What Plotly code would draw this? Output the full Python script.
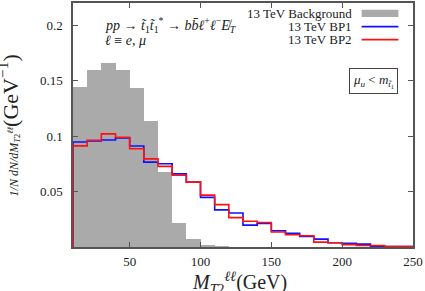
import plotly.graph_objects as go

bin_lo = [10, 20, 30, 40, 50, 60, 70, 80, 90, 100, 110, 120, 130, 140, 150,
          160, 170, 180, 190, 200, 210, 220, 230, 240]
bin_width = 10

background = [0.144, 0.160, 0.166, 0.1595, 0.143, 0.114, 0.0676, 0.022, 0.0073,
              0.0018, 0.0005, 0, 0, 0, 0, 0, 0, 0, 0, 0, 0, 0, 0, 0]
bp1 = [0.0947, 0.0956, 0.0965, 0.0983, 0.091, 0.0765, 0.075, 0.0659, 0.0585,
       0.0447, 0.0335, 0.0306, 0.0197, 0.0212, 0.0147, 0.0124, 0.0094, 0.0071,
       0.0038, 0.0033, 0.0026, 0.0006, 0.0005, 0.0004]
bp2 = [0.0912, 0.0962, 0.102, 0.0989, 0.0886, 0.0795, 0.0727, 0.0647, 0.0585,
       0.0468, 0.0382, 0.0265, 0.0232, 0.0221, 0.0135, 0.0111, 0.0102, 0.0044,
       0.0038, 0.0021, 0.0014, 0.0014, 0.0005, 0.0004]

x_ticks = [50, 100, 150, 200, 250]
y_ticks = [0.05, 0.1, 0.15, 0.2]

SERIF = "Liberation Serif"

centers = [lo + bin_width / 2 for lo in bin_lo]
edges = [bin_lo[0]] + bin_lo + [bin_lo[-1] + bin_width]


def step_y(vals):
    return [0] + vals + [vals[-1]]


fig = go.Figure()
fig.add_trace(go.Bar(x=centers, y=background, width=bin_width,
                     marker=dict(color="#aaaaaa", line=dict(width=0)),
                     showlegend=False))
fig.add_trace(go.Scatter(x=edges, y=step_y(bp1), mode="lines",
                         line=dict(color="#1010ff", width=1.6, shape="hv"),
                         showlegend=False))
fig.add_trace(go.Scatter(x=edges, y=step_y(bp2), mode="lines",
                         line=dict(color="#ff1010", width=1.6, shape="hv"),
                         showlegend=False))

axis_common = dict(showgrid=False, zeroline=False, showline=True,
                   linecolor="#555555", linewidth=1.5, mirror="ticks",
                   ticks="inside", ticklen=5, tickcolor="#555555",
                   tickfont=dict(family=SERIF, size=13, color="#222"))

fig.update_xaxes(range=[10, 250], tickvals=x_ticks, ticklabelstandoff=2,
                 **axis_common)
fig.update_yaxes(range=[0, 0.22], tickvals=y_ticks,
                 ticktext=[str(v) for v in y_ticks], ticklabelstandoff=6,
                 **axis_common)

annotations = []
leg_items = [("13 TeV Background", 0.959), ("13 TeV BP1", 0.903), ("13 TeV BP2", 0.85)]
for txt, yy in leg_items:
    annotations.append(dict(xref="paper", yref="paper", x=0.826, y=yy,
                            text=txt, showarrow=False, xanchor="right",
                            yanchor="middle",
                            font=dict(family=SERIF, size=13, color="#222")))
shapes = [
    dict(type="rect", xref="paper", yref="paper", x0=0.849, x1=0.957,
         y0=0.943, y1=0.972, fillcolor="#aaaaaa", line=dict(width=0)),
    dict(type="line", xref="paper", yref="paper", x0=0.849, x1=0.957,
         y0=0.903, y1=0.903, line=dict(color="#1010ff", width=1.6)),
    dict(type="line", xref="paper", yref="paper", x0=0.849, x1=0.957,
         y0=0.85, y1=0.85, line=dict(color="#ff1010", width=1.6)),
]

annotations.append(dict(xref="paper", yref="paper", x=0.088, y=0.91,
                        xanchor="left", yanchor="middle", showarrow=False,
                        text="<i>pp</i> → <i>t̃</i><sub>1</sub><i>t̃</i><sub>1</sub><sup>*</sup> → <i>bb̄ℓ</i><sup>+</sup><i>ℓ</i><sup>−</sup><i>E̸</i><sub><i>T</i></sub>",
                        font=dict(family=SERIF, size=14, color="#222")))
annotations.append(dict(xref="paper", yref="paper", x=0.088, y=0.845,
                        xanchor="left", yanchor="middle", showarrow=False,
                        text="<i>ℓ</i> ≡ <i>e</i>, <i>μ</i>",
                        font=dict(family=SERIF, size=14, color="#222")))
annotations.append(dict(xref="paper", yref="paper", x=0.884, y=0.68,
                        xanchor="center", yanchor="middle", showarrow=False,
                        text="<i>μ<sub>u</sub></i> &lt; <i>m</i><sub><i>t̃</i><sub>1</sub></sub>",
                        bordercolor="#444", borderwidth=1, borderpad=3,
                        font=dict(family=SERIF, size=13, color="#222")))
annotations.append(dict(xref="paper", yref="paper", x=0.49, y=-0.08,
                        xanchor="center", yanchor="top", showarrow=False,
                        text="<i>M</i><sub><i>T</i>2</sub><sup><i>ℓℓ</i></sup>(GeV)",
                        font=dict(family=SERIF, size=20, color="#222")))
annotations.append(dict(xref="paper", yref="paper", x=-0.19, y=0.5,
                        xanchor="center", yanchor="middle", showarrow=False,
                        textangle=-90,
                        text="<span style='font-size:12px'><i>1/N dN/dM</i><sub><i>T</i>2</sub><sup><i>ℓℓ</i></sup></span>(GeV<sup>−1</sup>)",
                        font=dict(family=SERIF, size=22, color="#222")))

fig.update_layout(width=425, height=291,
                  margin=dict(l=73, r=12, t=1, b=44),
                  plot_bgcolor="white", paper_bgcolor="white",
                  bargap=0, showlegend=False,
                  annotations=annotations, shapes=shapes)

fig.write_html("out.html", config={"displayModeBar": False},
               post_script="document.body.style.margin='0';")
